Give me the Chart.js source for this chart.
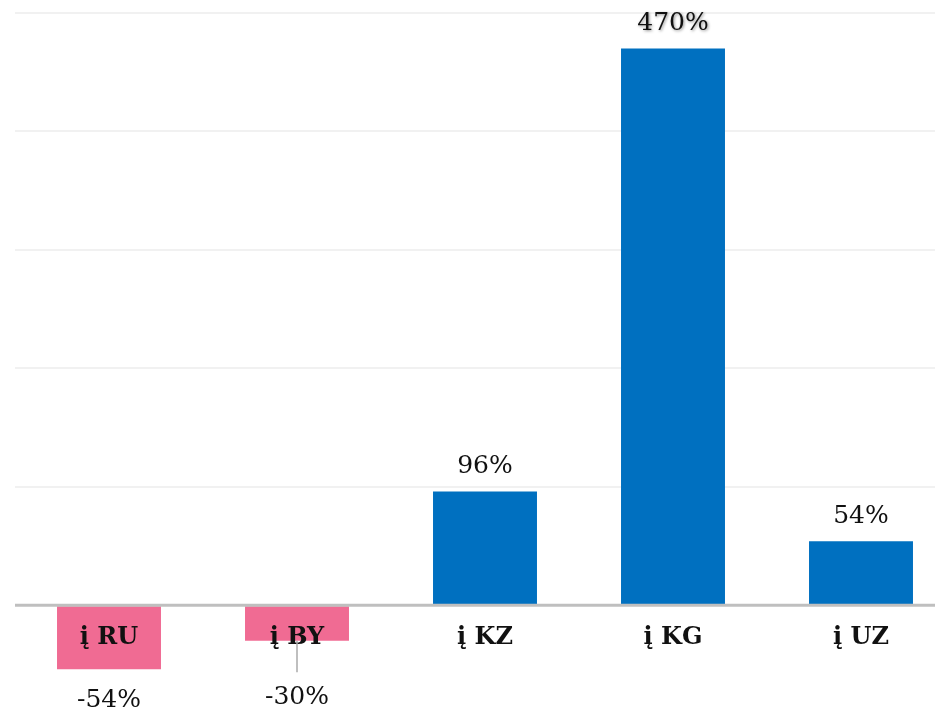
<!DOCTYPE html>
<html>
<head>
<meta charset="utf-8">
<style>
  html, body { margin: 0; padding: 0; background: #fff; overflow: hidden; }
  #wrap { width: 955px; height: 719px; }
</style>
<script src="https://cdn.jsdelivr.net/npm/chart.js@4/dist/chart.umd.min.js"></script>
</head>
<body>
<div id="wrap"><canvas id="BarChart" width="955" height="719"></canvas></div>
<script>
const categories = ["į RU", "į BY", "į KZ", "į KG", "į UZ"];
const changes = [-54, -30, 96, 470, 54];
const valueLabels = ["-54%", "-30%", "96%", "470%", "54%"];
const gridTicks = [0, 100, 200, 300, 400, 500];

const serif = "Georgia, 'DejaVu Serif', serif";

const labelPlugin = {
  id: "labelPlugin",
  afterDatasetsDraw(chart) {
    const ctx = chart.ctx;
    const y = chart.scales.y;
    const zeroY = y.getPixelForValue(0);
    const area = chart.chartArea;

    // zero line on top of bars
    ctx.save();
    ctx.strokeStyle = "#bfbfbf";
    ctx.lineWidth = 3;
    ctx.beginPath();
    ctx.moveTo(area.left, zeroY);
    ctx.lineTo(area.right, zeroY);
    ctx.stroke();

    const meta = chart.getDatasetMeta(0);
    meta.data.forEach((bar, i) => {
      const x = bar.x;
      // category label just under the zero line
      ctx.font = "bold 24px " + serif;
      ctx.fillStyle = "#111";
      ctx.textAlign = "center";
      ctx.textBaseline = "middle";
      ctx.fillText(categories[i], x, zeroY + 32);

      ctx.font = "25px " + serif;
      if (changes[i] >= 0) {
        if (i === changes.indexOf(Math.max(...changes))) {
          ctx.shadowColor = "rgba(0,0,0,0.45)";
          ctx.shadowBlur = 3;
          ctx.shadowOffsetX = 1;
          ctx.shadowOffsetY = 1;
        }
        ctx.fillText(valueLabels[i], x, bar.y - 25);
        ctx.shadowColor = "transparent";
        ctx.shadowBlur = 0;
        ctx.shadowOffsetX = 0;
        ctx.shadowOffsetY = 0;
      } else {
        let ly = bar.y + 31;
        if (ly < zeroY + 92) {
          ly = zeroY + 92;
          ctx.strokeStyle = "#aaaaaa";
          ctx.lineWidth = 1.5;
          ctx.beginPath();
          ctx.moveTo(x, bar.y);
          ctx.lineTo(x, ly - 25);
          ctx.stroke();
        }
        ctx.fillStyle = "#111";
        ctx.fillText(valueLabels[i], x, ly);
      }
    });
    ctx.restore();
  }
};

new Chart(document.getElementById("BarChart"), {
  type: "bar",
  data: {
    labels: categories,
    datasets: [{
      data: changes,
      backgroundColor: changes.map(v => v < 0 ? "#f06b93" : "#0070c0"),
      barPercentage: 0.553,
      categoryPercentage: 1
    }]
  },
  options: {
    responsive: false,
    animation: false,
    devicePixelRatio: 1,
    layout: { padding: { top: 13, left: 15, right: 0, bottom: 0 } },
    plugins: {
      legend: { display: false },
      tooltip: { enabled: false }
    },
    scales: {
      x: { display: false },
      y: {
        min: -96,
        max: 500,
        border: { display: false },
        ticks: { display: false },
        grid: { color: "#f1f1f1", lineWidth: 2, drawTicks: false },
        afterBuildTicks: axis => { axis.ticks = gridTicks.map(v => ({ value: v })); },
        afterFit: axis => { axis.width = 0; }
      }
    }
  },
  plugins: [labelPlugin]
});
</script>
</body>
</html>
